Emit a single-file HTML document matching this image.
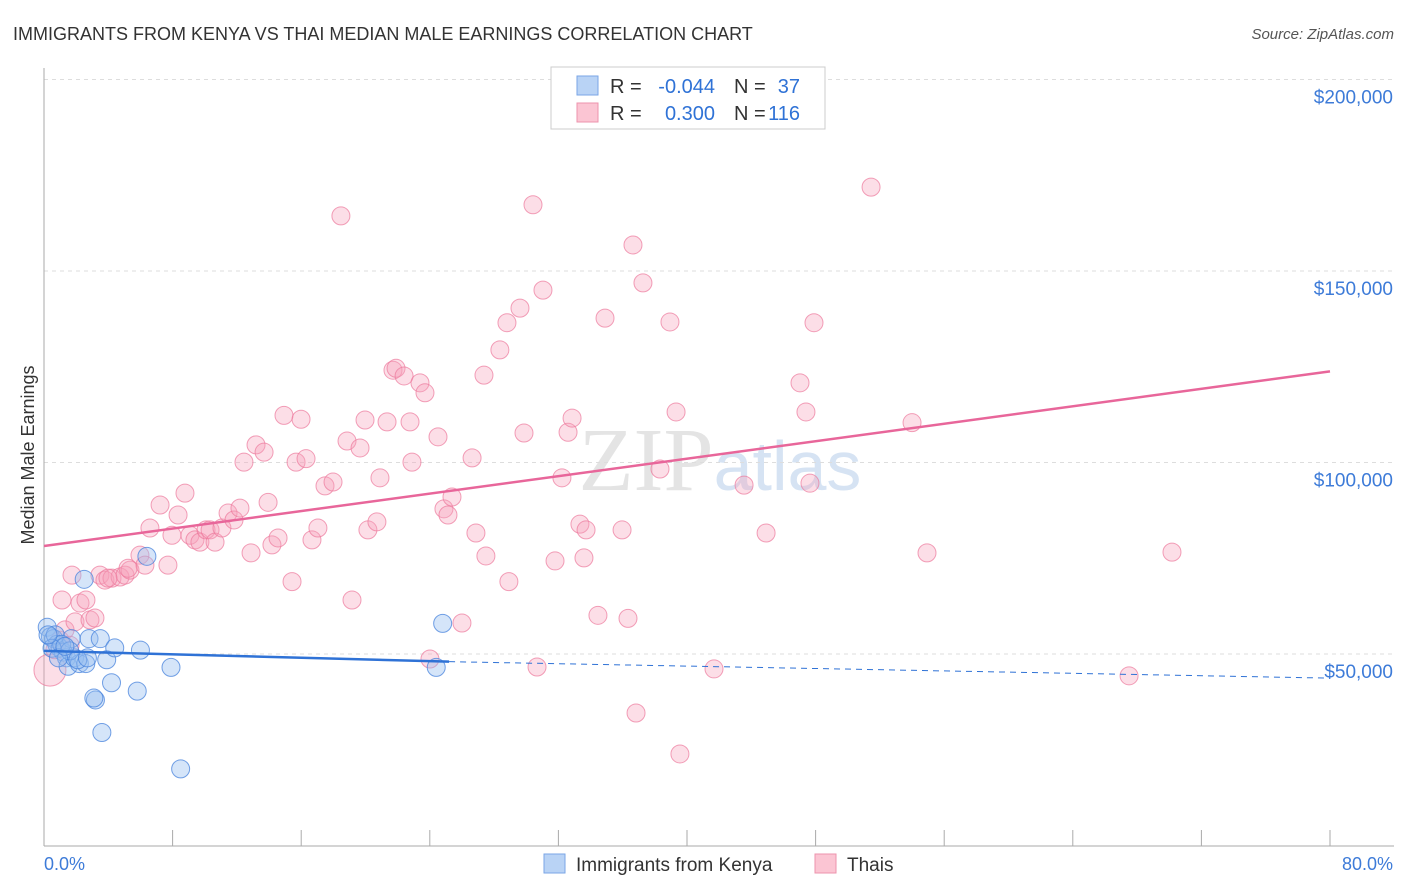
<!DOCTYPE html>
<html><head><meta charset="utf-8">
<style>
body{margin:0;background:#fff;font-family:"Liberation Sans",sans-serif;}
svg{display:block}
</style></head>
<body>
<svg id="chart" width="1406" height="892" viewBox="0 0 1406 892" xmlns="http://www.w3.org/2000/svg">
<text x="13" y="40" font-size="18" fill="#333">IMMIGRANTS FROM KENYA VS THAI MEDIAN MALE EARNINGS CORRELATION CHART</text>
<text x="1394" y="39" font-size="15" fill="#555" text-anchor="end" font-style="italic">Source: ZipAtlas.com</text>
<text x="720" y="490" font-size="90" fill="#e4e4e4" text-anchor="middle" font-family="Liberation Serif">ZIP<tspan fill="#d6e3f3" font-family="Liberation Sans" font-size="70">atlas</tspan></text>
<g id="grid"></g>
<g id="axes"></g>
<g id="marks"></g>
<text transform="translate(34,455) rotate(-90)" font-size="18" fill="#333" text-anchor="middle">Median Male Earnings</text>
<text x="44" y="870" font-size="18" fill="#3d7bd8">0.0%</text>
<text x="1393" y="870" font-size="18" fill="#3d7bd8" text-anchor="end">80.0%</text>
<g font-size="20">
<rect x="551" y="67" width="274" height="62" fill="#fff" stroke="#ccc"/>
<rect x="577" y="76" width="21" height="19" fill="#b9d3f5" stroke="#7aa6e6"/>
<rect x="577" y="103" width="21" height="19" fill="#fbc5d3" stroke="#ee93ad"/>
<text x="610" y="93" fill="#333">R =</text>
<text x="715" y="93" fill="#2f72d6" text-anchor="end">-0.044</text>
<text x="734" y="93" fill="#333">N =</text>
<text x="800" y="93" fill="#2f72d6" text-anchor="end">37</text>
<text x="610" y="120" fill="#333">R =</text>
<text x="715" y="120" fill="#2f72d6" text-anchor="end">0.300</text>
<text x="734" y="120" fill="#333">N =</text>
<text x="800" y="120" fill="#2f72d6" text-anchor="end">116</text>
</g>
<g>
<rect x="544" y="854" width="21" height="19" fill="#b9d3f5" stroke="#7aa6e6"/>
<text x="576" y="871" font-size="19" fill="#333">Immigrants from Kenya</text>
<rect x="815" y="854" width="21" height="19" fill="#fbc5d3" stroke="#ee93ad"/>
<text x="847" y="871" font-size="19" fill="#333">Thais</text>
</g>
</svg>
<script>
const yTicks=[50000,100000,150000,200000];
const yTickLabels=["$50,000","$100,000","$150,000","$200,000"];
const xTicks=[0,8,16,24,32,40,48,56,64,72,80];
const kenyaX=[0.2,0.4,0.6,0.8,1.0,1.2,1.4,1.5,1.7,1.9,2.2,2.6,2.8,3.2,3.1,3.5,3.9,4.2,4.4,6.0,5.8,2.5,3.6,6.4,7.9,8.5,24.8,24.4,0.7,1.1,1.6,2.1,2.7,0.5,0.9,1.3,0.25];
const kenyaY=[57000,54500,54000,52500,51500,50500,49000,46800,54000,49000,47500,47500,54000,38000,38500,54000,48500,42500,51600,51000,40300,69500,29500,75500,46500,20000,58000,46500,55000,52500,50800,48500,49000,51500,49000,52000,55000];
const thaiX=[0.37,0.68,1.0,1.31,1.62,1.93,2.24,2.61,2.86,3.17,3.48,3.79,4.23,4.73,5.04,5.35,5.97,6.28,6.59,7.22,7.71,7.96,8.34,8.77,9.08,9.39,9.70,10.08,10.33,10.64,11.07,11.45,11.82,12.19,12.44,12.88,13.19,13.69,13.94,14.18,14.56,14.93,15.43,15.68,15.99,16.30,16.67,17.04,17.48,17.98,18.47,18.85,19.16,19.66,19.97,20.15,20.71,20.90,21.34,21.71,21.90,22.40,22.77,22.89,23.39,23.70,24.51,24.88,25.13,25.38,26.00,26.63,26.87,27.37,27.49,28.36,28.80,28.92,29.61,29.86,30.42,31.04,31.79,32.22,32.60,32.85,33.34,33.72,33.59,34.46,34.90,35.96,36.33,36.64,36.83,37.26,38.32,38.94,39.32,39.56,41.68,43.55,44.92,47.03,47.40,47.65,47.90,51.45,54.00,54.93,67.50,70.17,30.67,24.01,1.12,1.74,3.98,5.23];
const thaiY=[45800,51100,53600,56300,52300,58400,63300,64100,58900,59400,70600,69300,69800,70100,70600,71900,75800,73200,82900,88900,73200,81000,86300,92000,81000,79800,79200,82400,82400,79200,82900,86800,85000,88100,100100,76400,104600,102700,89600,78500,80300,112300,68900,100100,111300,101000,79800,82900,93900,94900,164400,105600,64100,103800,111100,82400,84500,96000,110600,124100,124600,122600,110600,100100,120800,118200,106700,87900,86300,91000,58100,101200,81600,122800,75600,129400,136500,68900,140300,107700,167300,145000,74300,96000,107900,111600,83900,82400,75100,60100,137700,82400,59300,156800,34600,146900,98300,136700,113200,23900,46100,94100,81600,120800,113200,94600,136500,171900,110400,76400,44300,76600,46600,48700,64100,70600,69800,72400];
const X0=44,X1=1330,Y0=845.5,YS=191.5/50000;
const sx=v=>X0+(v/80)*(X1-X0);
const sy=v=>Y0-v*YS;
const NS="http://www.w3.org/2000/svg";
function mk(tag,attrs,parent){const e=document.createElementNS(NS,tag);for(const k in attrs)e.setAttribute(k,attrs[k]);parent.appendChild(e);return e;}
const gridG=document.getElementById('grid'),axesG=document.getElementById('axes'),marksG=document.getElementById('marks');
yTicks.forEach((t,i)=>{
 const l=mk('line',{x1:44,x2:1394,y1:sy(t),y2:sy(t),stroke:'#ddd','stroke-dasharray':'4,4'},gridG);
 
 
 const tx=mk('text',{x:1393,y:sy(t)+24,'font-size':19,fill:'#3d7bd8','text-anchor':'end'},axesG);
 tx.textContent=yTickLabels[i];
 
 
});
const ya=mk('line',{x1:44,x2:44,y1:68,y2:846,stroke:'#aaa'},axesG);


const xa=mk('line',{x1:44,x2:1394,y1:846,y2:846,stroke:'#aaa'},axesG);


xTicks.forEach(t=>{
 const l=mk('line',{x1:sx(t),x2:sx(t),y1:830,y2:846,stroke:'#aaa'},axesG);
 
 
});
thaiX.forEach((x,i)=>{
 const c=mk('circle',{cx:sx(x),cy:sy(thaiY[i]),r:i===0?16:9,fill:'rgba(247,160,185,0.35)',stroke:'rgba(236,120,155,0.7)','stroke-width':1},marksG);
 
 
});
kenyaX.forEach((x,i)=>{
 const c=mk('circle',{cx:sx(x),cy:sy(kenyaY[i]),r:9,fill:'rgba(150,190,240,0.4)',stroke:'rgba(70,130,220,0.75)','stroke-width':1},marksG);
 
 
});
const pt=mk('line',{x1:sx(0),y1:sy(78200),x2:sx(80),y2:sy(123800),stroke:'#e8669a','stroke-width':2.5},marksG);


const bt=mk('line',{x1:sx(0),y1:sy(50800),x2:sx(25.2),y2:sy(48000),stroke:'#2f72d6','stroke-width':2.5},marksG);


const bd=mk('line',{x1:sx(25.2),y1:sy(48000),x2:sx(80),y2:sy(43700),stroke:'#2f72d6','stroke-width':1,'stroke-dasharray':'6,5'},marksG);


</script>
</body></html>
